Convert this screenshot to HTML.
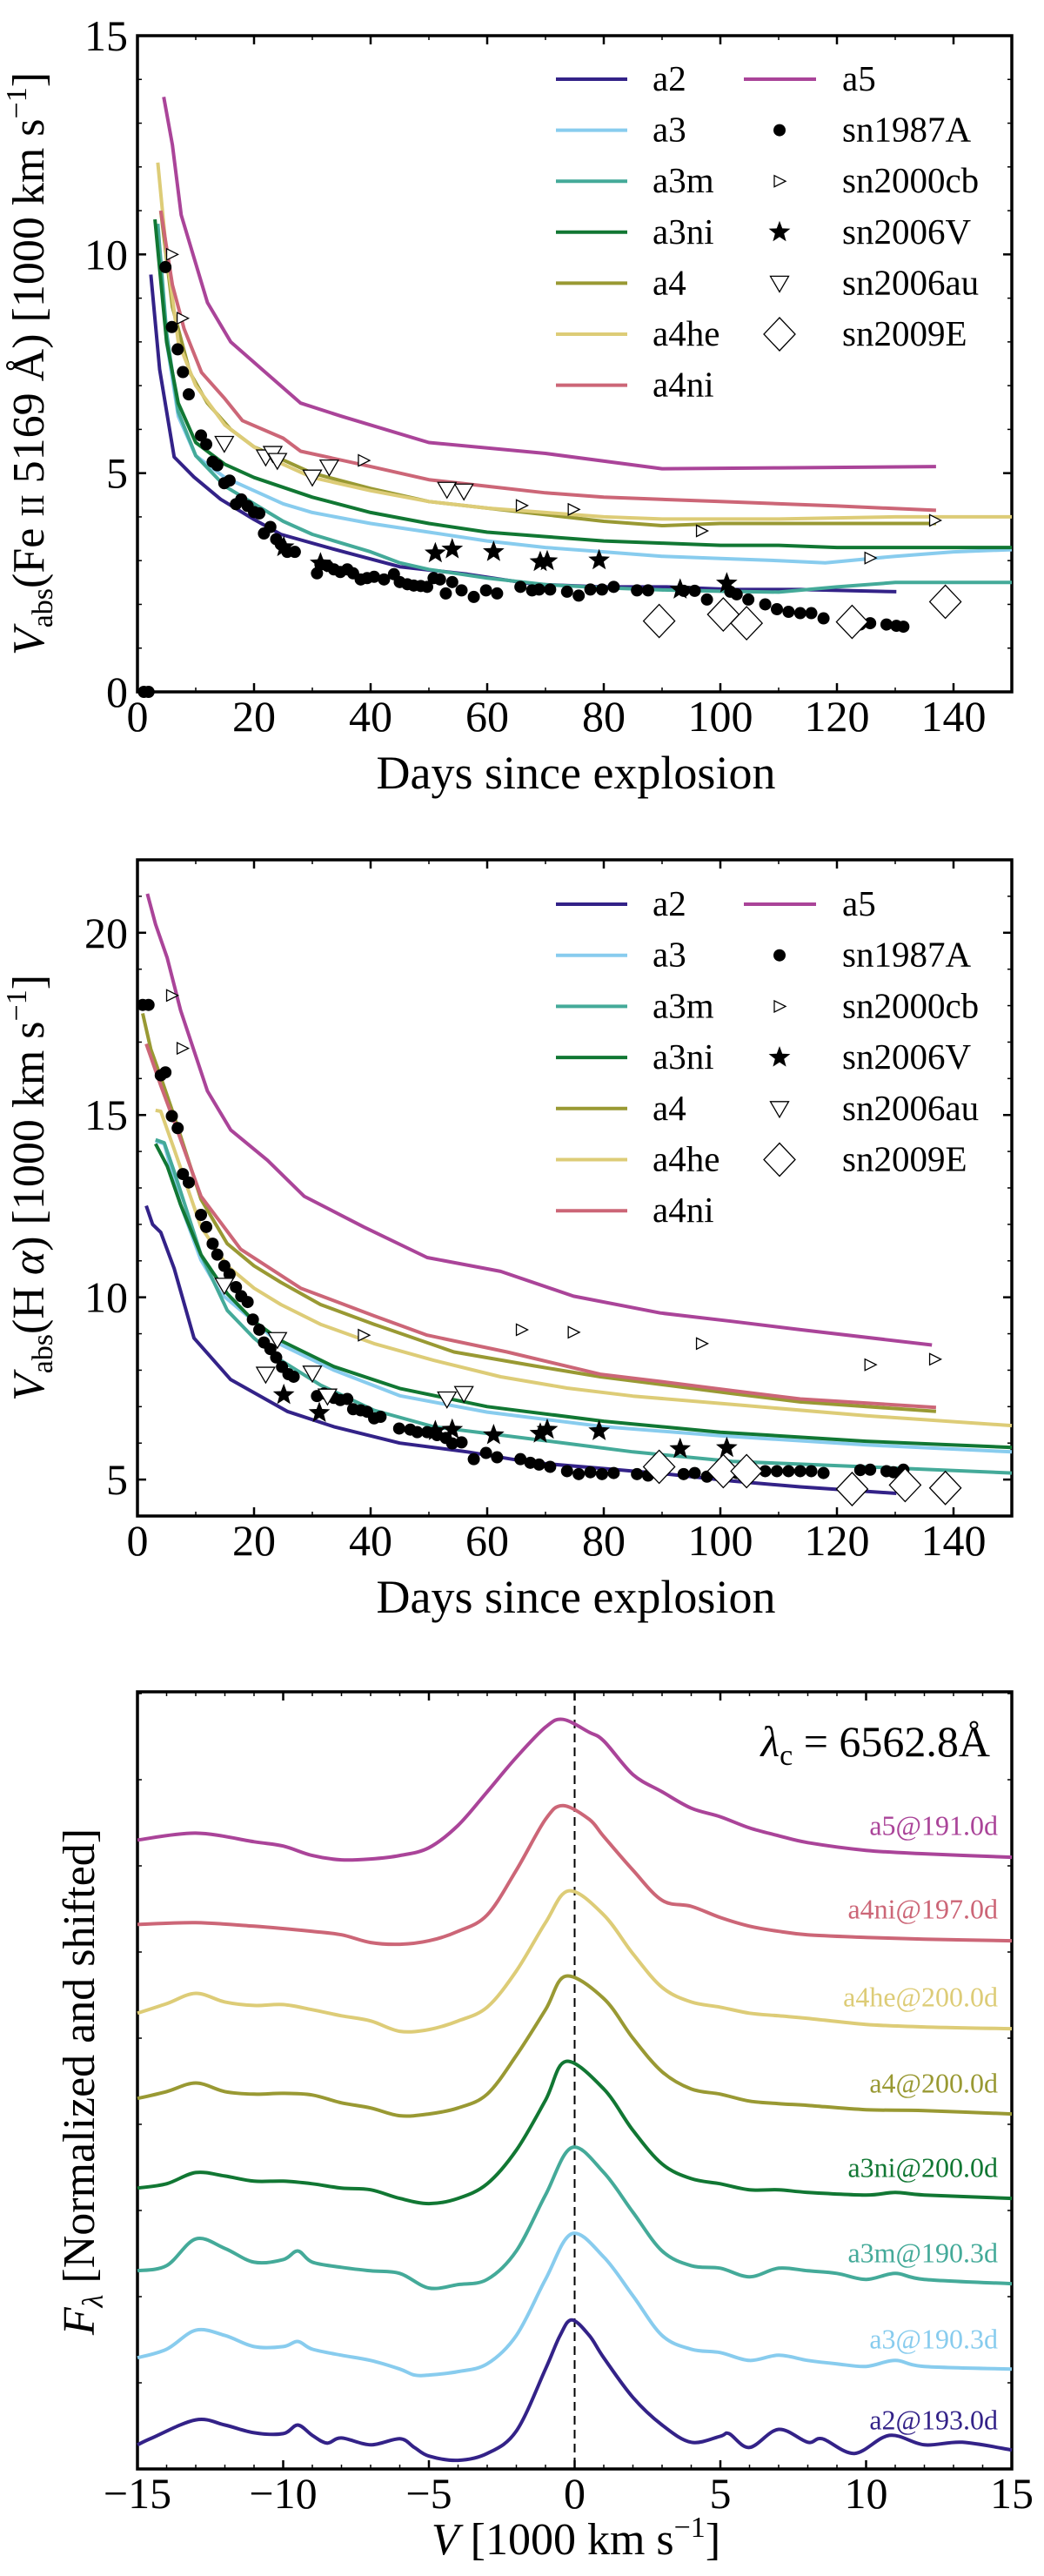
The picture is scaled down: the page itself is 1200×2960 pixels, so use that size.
<!DOCTYPE html>
<html><head><meta charset="utf-8">
<style>
html,body{margin:0;padding:0;background:#fff;}
svg{display:block;font-family:"Liberation Serif","DejaVu Serif",serif;}
</style></head>
<body>
<svg id="fig" xmlns="http://www.w3.org/2000/svg" width="1200" height="2960" viewBox="0 0 1200 2960"></svg>
<script>
// ---------- Panel 1: Fe II 5169 velocities ----------
const fe_a2_day=[2.3,3.8,6.3,9.7,14.3,20,24.6,33.7,45,56.6,68,79.4,90.8,102,113.7,130.2];
const fe_a2_v=[9.54,7.37,5.37,4.91,4.4,3.94,3.6,3.26,2.86,2.69,2.46,2.4,2.4,2.34,2.34,2.29];
const fe_a3_day=[3.5,5,7,10,15,20,25,30,40,50,60,70,80,90,100,110,118,130,140,150];
const fe_a3_v=[10.5,8.0,6.3,5.4,4.9,4.6,4.3,4.1,3.85,3.65,3.45,3.3,3.2,3.1,3.05,3.0,2.95,3.1,3.2,3.25];
const fe_a3m_day=[3.5,5,7,10,15,20,25,30,40,45,50,60,70,80,90,100,110,120,130,150];
const fe_a3m_v=[10.7,8.2,6.4,5.4,4.7,4.3,3.9,3.6,3.2,2.95,2.8,2.6,2.45,2.38,2.33,2.3,2.28,2.4,2.5,2.5];
const fe_a3ni_day=[3,5,7,10,15,20,30,40,50,60,70,80,90,100,110,120,150];
const fe_a3ni_v=[10.8,8.0,6.6,5.7,5.2,4.9,4.45,4.1,3.85,3.65,3.55,3.45,3.4,3.35,3.35,3.3,3.3];
const fe_a4_day=[4,6,9,12,16,20,25,30,40,50,60,70,80,90,100,120,137];
const fe_a4_v=[11.0,8.8,7.3,6.6,6.0,5.6,5.3,5.0,4.65,4.35,4.2,4.05,3.9,3.8,3.85,3.85,3.85];
const fe_a4he_day=[3.5,5,7,10,15,20,25,30,40,50,60,70,80,90,110,130,150];
const fe_a4he_v=[12.1,10,8.0,7.0,6.1,5.6,5.2,4.9,4.6,4.35,4.2,4.1,4.0,3.95,3.95,4.0,4.0];
const fe_a4ni_day=[4,6,8,11,15,18,25,28,40,50,60,70,80,100,120,137];
const fe_a4ni_v=[11.0,9.3,8.3,7.3,6.7,6.2,5.8,5.5,5.15,4.85,4.7,4.55,4.45,4.35,4.25,4.15];
const fe_a5_day=[4.5,6,7.5,12,16,22,28,35,50,70,90,110,137];
const fe_a5_v=[13.6,12.5,10.9,8.9,8.0,7.3,6.6,6.3,5.7,5.45,5.1,5.12,5.15];

const fe_87A_day=[1.1,1.9,4.8,5.9,6.9,7.8,8.8,10.9,11.8,12.9,13.7,14.9,15.8,16.9,17.8,18.9,20,20.9,21.7,22.8,23.8,24.6,25.7,27,30.8,31.4,32.6,33.7,34.8,36,37,38.3,39.4,40.6,42.3,44,45,46.3,47.4,48.6,49.7,50.8,51.9,52.9,54,55.6,57.7,59.8,61.7,65.7,67.7,68.9,70.8,73.7,75.7,77.7,79.7,81.7,85.7,87.6,93.7,95.6,97.7,101.7,102.8,104.8,107.7,109.7,111.7,113.7,115.6,117.7,124,125.7,128.5,130.2,131.4];
const fe_87A_v=[0,0,9.71,8.34,7.83,7.31,6.8,5.86,5.66,5.26,5.18,4.77,4.83,4.29,4.4,4.25,4.11,4.08,3.62,3.77,3.49,3.37,3.2,3.2,2.71,2.91,2.88,2.8,2.74,2.8,2.71,2.57,2.6,2.63,2.57,2.69,2.51,2.46,2.43,2.42,2.4,2.6,2.57,2.25,2.51,2.32,2.17,2.32,2.25,2.4,2.32,2.34,2.34,2.29,2.2,2.34,2.34,2.4,2.32,2.32,2.31,2.31,2.11,2.29,2.23,2.11,2.0,1.89,1.83,1.8,1.8,1.68,1.54,1.57,1.54,1.51,1.49];
const fe_00cb_day=[5.9,7.7,38.8,65.9,74.8,96.8,125.7,136.8];
const fe_00cb_v=[10.0,8.54,5.29,4.26,4.17,3.68,3.06,3.92];
const fe_06V_day=[25.1,31.4,51.1,54,61.1,69.1,70.3,79.2,93.1,101.1];
const fe_06V_v=[3.31,2.94,3.17,3.26,3.2,2.97,2.99,3.01,2.34,2.48];
const fe_06au_day=[14.9,22,23.2,24,30,32.9,53.1,56];
const fe_06au_v=[5.68,5.37,5.45,5.29,4.91,5.14,4.63,4.59];
const fe_09E_day=[89.5,100.5,104.5,122.6,138.6];
const fe_09E_v=[1.62,1.77,1.57,1.6,2.06];

// ---------- Panel 2: H alpha velocities ----------
const ha_a2_day=[1.5,2.6,4,6.3,9.7,16,25.7,33.7,45,56.6,68,79.4,90.8,102,113.7,130.2];
const ha_a2_v=[12.51,12.0,11.78,10.79,8.88,7.74,6.87,6.45,6.0,5.76,5.46,5.31,5.15,4.96,4.8,4.62];
const ha_a3_day=[3.1,4.6,7.4,10.9,14.3,20,24.6,33.7,45,60,80,100,125,150];
const ha_a3_v=[14.29,14.21,12.54,11.02,10.1,9.34,8.7,8.0,7.3,6.85,6.45,6.2,5.95,5.76];
const ha_a3m_day=[3.1,4.6,6.3,10.9,15.4,20,24.6,31.4,40.6,50.8,62.3,73.7,85,102,125,150];
const ha_a3m_v=[14.32,14.24,13.45,11.17,9.64,8.88,8.27,7.59,6.9,6.45,6.22,5.99,5.76,5.5,5.35,5.18];
const ha_a3ni_day=[3.1,5.1,7.4,10.9,15.4,20,24.6,33.7,45,60,80,100,125,150];
const ha_a3ni_v=[14.21,13.6,12.54,11.17,10.1,9.34,8.81,8.1,7.5,7.0,6.6,6.3,6.05,5.88];
const ha_a4_day=[0.9,2.3,4,6.3,10.9,15.4,20,24.6,31.4,40.6,54.3,68,79.4,90.8,102,113.7,137];
const ha_a4_v=[17.79,16.8,16.04,14.97,12.69,11.47,10.86,10.41,9.8,9.26,8.5,8.12,7.82,7.59,7.36,7.13,6.87];
const ha_a4he_day=[3.1,4,6.3,10.9,15.4,20,24.6,31.4,40.6,50.8,62.3,73.7,85,102,125,150];
const ha_a4he_v=[15.13,15.1,14.06,11.93,10.86,10.25,9.8,9.26,8.73,8.27,7.82,7.51,7.29,7.06,6.75,6.48];
const ha_a4ni_day=[1.5,4,6.3,10.9,17.7,28,40.6,49.7,63.4,79.4,90.8,102,113.7,137];
const ha_a4ni_v=[16.95,15.81,14.82,12.77,11.32,10.25,9.49,8.96,8.5,7.89,7.67,7.44,7.21,6.98];
const ha_a5_day=[1.7,3.1,5.1,7.4,12,16,22.3,28.6,38.8,49.7,62.3,74.8,89.7,102,113.7,136.3];
const ha_a5_v=[21.07,20.23,19.31,17.87,15.66,14.59,13.76,12.77,11.93,11.09,10.71,10.03,9.57,9.34,9.11,8.69];

const ha_87A_day=[0.9,1.9,4,4.8,5.9,6.9,7.8,8.8,10.9,11.8,12.9,13.7,14.9,15.8,16.9,17.8,18.9,19.8,20.9,21.7,22.8,23.8,24.8,25.9,26.8,30.8,32,33.7,34.8,36,37,38.3,39.4,40.6,41.7,44.9,46.8,48,49.7,51.4,52.9,54,55.6,57.7,59.8,61.7,65.7,67.4,68.9,70.8,73.7,75.7,77.7,79.7,81.7,85.7,87.6,93.7,95.6,97.7,101.7,102.8,104.8,107.7,109.7,111.7,113.7,115.6,117.7,124,125.7,128.5,129.7,131.4];
const ha_87A_v=[18.02,18.02,16.09,16.17,14.97,14.64,13.38,13.15,12.26,11.93,11.47,11.17,10.86,10.63,10.28,10.03,9.87,9.39,9.11,8.76,8.58,8.35,8.09,7.89,7.82,7.29,7.36,7.24,7.18,7.21,6.93,6.9,6.86,6.68,6.72,6.4,6.37,6.3,6.3,6.22,6.14,5.99,6.02,5.56,5.73,5.61,5.56,5.46,5.41,5.35,5.23,5.15,5.2,5.15,5.18,5.15,5.11,5.15,5.18,5.08,5.23,5.18,5.15,5.23,5.23,5.23,5.23,5.23,5.18,5.26,5.27,5.23,5.2,5.27];
const ha_00cb_day=[5.9,7.7,38.8,65.9,74.8,96.8,125.7,136.8];
const ha_00cb_v=[18.28,16.83,8.96,9.11,9.04,8.73,8.15,8.3];
const ha_06V_day=[25.1,31.2,51.1,54,61.1,69.1,70.3,79.2,93.1,101.1];
const ha_06V_v=[7.32,6.83,6.33,6.37,6.22,6.26,6.37,6.33,5.84,5.87];
const ha_06au_day=[14.9,22,24,30,32.6,53.1,56];
const ha_06au_v=[10.33,7.89,8.84,7.92,7.29,7.21,7.36];
const ha_09E_day=[89.5,100.5,104.5,122.6,131.7,138.6];
const ha_09E_v=[5.35,5.23,5.23,4.74,4.85,4.77];

// ---------- Panel 3: spectra (normalized + shifted) ----------
const sp_a2_x=[-15,-14.5,-13,-12,-11,-10,-9.5,-9,-8.5,-8,-7,-6,-5.5,-5,-4,-3,-2,-1,-0.5,-0.1,0.5,1,2,3,4,5,5.3,6,7,8,8.5,9.6,10.8,12,13.3,15];
const sp_a2_f=[0.28,0.36,0.57,0.51,0.42,0.41,0.51,0.39,0.30,0.36,0.28,0.35,0.25,0.15,0.10,0.18,0.44,1.16,1.55,1.73,1.55,1.29,0.83,0.51,0.31,0.38,0.41,0.25,0.46,0.31,0.35,0.18,0.39,0.28,0.31,0.22];
const sp_a3_x=[-15,-14,-13,-12,-11,-10,-9.5,-9,-8,-7,-6,-5.5,-5,-4,-3,-2,-1,-0.1,1,2,3,4,5,6,7,8,9,10,11,12,15];
const sp_a3_f=[1.29,1.39,1.61,1.55,1.42,1.42,1.48,1.39,1.32,1.26,1.16,1.09,1.09,1.13,1.22,1.55,2.20,2.73,2.46,2.01,1.55,1.39,1.35,1.26,1.32,1.26,1.22,1.19,1.26,1.19,1.16];
const sp_a3m_x=[-15,-14,-13,-12,-11,-10,-9.5,-9,-8,-7,-6,-5,-4,-3,-2,-1,-0.1,1,2,3,4,5,6,7,8,9,10,11,12,15];
const sp_a3m_f=[2.30,2.36,2.67,2.56,2.40,2.43,2.53,2.40,2.34,2.30,2.27,2.10,2.14,2.20,2.53,3.18,3.73,3.44,2.98,2.53,2.36,2.33,2.23,2.33,2.30,2.27,2.20,2.27,2.20,2.15];
const sp_a3ni_x=[-15,-14,-13,-12,-11,-10,-9,-8,-7,-6,-5,-4,-3,-2,-1,-0.3,1,2,3,4,5,6,7,8,10,11,12,15];
const sp_a3ni_f=[3.26,3.31,3.44,3.40,3.34,3.34,3.31,3.26,3.24,3.14,3.08,3.14,3.31,3.70,4.28,4.73,4.41,3.93,3.54,3.37,3.31,3.24,3.24,3.21,3.18,3.21,3.18,3.14];
const sp_a4_x=[-15,-14,-13,-12,-11,-10,-9,-8,-7,-6,-5,-4,-3,-2,-1,-0.3,1,2,3,4,5,6,7,8,10,12,15];
const sp_a4_f=[4.30,4.38,4.48,4.38,4.35,4.36,4.34,4.25,4.19,4.10,4.12,4.19,4.35,4.80,5.33,5.72,5.46,5.00,4.61,4.41,4.35,4.27,4.24,4.22,4.17,4.16,4.12];
const sp_a4he_x=[-15,-14,-13,-12,-11,-10,-9,-8,-7,-6,-5,-4,-3,-2,-1,-0.2,1,2,3,4,5,6,7,8,10,12,15];
const sp_a4he_f=[5.29,5.40,5.52,5.42,5.38,5.39,5.33,5.26,5.20,5.08,5.10,5.20,5.36,5.78,6.34,6.71,6.43,5.98,5.59,5.42,5.36,5.29,5.26,5.23,5.16,5.13,5.11];
const sp_a4ni_x=[-15,-13,-11,-9,-8,-7,-6,-5,-4,-3,-2,-1,-0.4,0.5,1,2,3,4,5,6,7,8,10,12,15];
const sp_a4ni_f=[6.32,6.34,6.30,6.24,6.20,6.11,6.09,6.13,6.24,6.43,6.95,7.54,7.70,7.54,7.34,6.95,6.60,6.53,6.40,6.30,6.24,6.20,6.17,6.15,6.13];
const sp_a5_x=[-15,-13,-11,-10,-9,-8,-7,-6,-5,-4,-3,-2,-1,-0.4,0.5,1,2,3,4,5,6,7,8,10,12,15];
const sp_a5_f=[7.30,7.38,7.28,7.23,7.12,7.07,7.08,7.12,7.21,7.47,7.86,8.26,8.61,8.70,8.55,8.45,8.06,7.86,7.67,7.57,7.44,7.35,7.27,7.18,7.14,7.10];
const sp_labels=["a2@193.0d","a3@190.3d","a3m@190.3d","a3ni@200.0d","a4@200.0d","a4he@200.0d","a4ni@197.0d","a5@191.0d"];
const sp_label_f=[0.57,1.51,2.51,3.50,4.48,5.48,6.50,7.47];

const fe_ticks=[0,5,10,15];
const ha_ticks=[5,10,15,20];
const day_ticks=[0,20,40,60,80,100,120,140];
const vel_ticks=[-15,-10,-5,0,5,10,15];

const models=["a2","a3","a3m","a3ni","a4","a4he","a4ni","a5"];
const colors={a2:"#332288",a3:"#88ccee",a3m:"#44aa99",a3ni:"#117733",a4:"#999933",a4he:"#ddcc77",a4ni:"#cc6677",a5:"#aa4499"};

const NS="http://www.w3.org/2000/svg";
const svg=document.getElementById('fig');
function mk(tag,attrs,parent){const e=document.createElementNS(NS,tag);for(const k in attrs)e.setAttribute(k,attrs[k]);(parent||svg).appendChild(e);return e;}

const XL=158, XR=1163;
function panel(top,bot,xmin,xmax,ymin,ymax){
  return {top,bot,sx:v=>XL+(v-xmin)/(xmax-xmin)*(XR-XL),sy:v=>bot-(v-ymin)/(ymax-ymin)*(bot-top)};
}
const P1=panel(41,795,0,150,0,15);
const P2=panel(988,1742,0,150,4,22);
const P3=panel(1944,2837,-15,15,0,(2837-1944)/99);

function drawLine(P,xs,ys,color,name,smooth){
  const pts=xs.map((x,i)=>[P.sx(x),P.sy(ys[i])]);
  let d='M'+pts[0][0].toFixed(1)+' '+pts[0][1].toFixed(1);
  if(smooth){
    for(let i=0;i<pts.length-1;i++){
      const p0=pts[Math.max(0,i-1)],p1=pts[i],p2=pts[i+1],p3=pts[Math.min(pts.length-1,i+2)];
      const c1=[p1[0]+(p2[0]-p0[0])/6,p1[1]+(p2[1]-p0[1])/6];
      const c2=[p2[0]-(p3[0]-p1[0])/6,p2[1]-(p3[1]-p1[1])/6];
      d+='C'+c1[0].toFixed(1)+' '+c1[1].toFixed(1)+' '+c2[0].toFixed(1)+' '+c2[1].toFixed(1)+' '+p2[0].toFixed(1)+' '+p2[1].toFixed(1);
    }
  } else {for(let i=1;i<pts.length;i++)d+='L'+pts[i][0].toFixed(1)+' '+pts[i][1].toFixed(1);}
  const p=mk('path',{d:d,fill:'none',stroke:color,'stroke-width':4,'stroke-linejoin':'round'});
  
  
  return p;
}
function marker(type,x,y,g){
  let e;
  if(type==='dot'){e=mk('circle',{cx:x,cy:y,r:7,fill:'#000'},g);}
  else if(type==='rtri'){e=mk('polygon',{points:`${x-6},${y-6.5} ${x+7},${y} ${x-6},${y+6.5}`,fill:'#fff',stroke:'#000','stroke-width':1.3},g);}
  else if(type==='dtri'){e=mk('polygon',{points:`${x-10.5},${y-8} ${x+10.5},${y-8} ${x},${y+10}`,fill:'#fff',stroke:'#000','stroke-width':1.3},g);}
  else if(type==='diam'){e=mk('polygon',{points:`${x},${y-19} ${x+18},${y} ${x},${y+19} ${x-18},${y}`,fill:'#fff',stroke:'#000','stroke-width':1.3},g);}
  else {let pts='';for(let k=0;k<10;k++){const r=k%2?5.5:13;const a=-Math.PI/2+k*Math.PI/5;pts+=(x+r*Math.cos(a)).toFixed(1)+','+(y+r*Math.sin(a)).toFixed(1)+' ';}
    e=mk('polygon',{points:pts,fill:'#000'},g);}
  return e;
}
function drawScatter(P,xs,ys,type,name){
  const g=mk('g',{});
  
  
  for(let i=0;i<xs.length;i++){const m=marker(type,P.sx(xs[i]),P.sy(ys[i]),g);
    
    }
}
function axes(P,name,xt,xminorStep,xmin,xmax,yt,yminorStep,ymin,ymax,showY,xfmt){
  const g=mk('g',{});
  
  
  for(let v=xmin;v<=xmax+1e-9;v+=xminorStep){const x=P.sx(v);const maj=xt.some(t=>Math.abs(t-v)<1e-6);const L=maj?10:5;
    mk('line',{x1:x,y1:P.bot,x2:x,y2:P.bot-L,stroke:'#000','stroke-width':maj?2.5:1.5},g);
    mk('line',{x1:x,y1:P.top,x2:x,y2:P.top+L,stroke:'#000','stroke-width':maj?2.5:1.5},g);}
  for(let v=ymin;v<=ymax+1e-9;v+=yminorStep){const y=P.sy(v);const maj=yt.some(t=>Math.abs(t-v)<1e-6);const L=maj?10:5;
    mk('line',{x1:XL,y1:y,x2:XL+L,y2:y,stroke:'#000','stroke-width':maj?2.5:1.5},g);
    mk('line',{x1:XR,y1:y,x2:XR-L,y2:y,stroke:'#000','stroke-width':maj?2.5:1.5},g);}
  const r=mk('rect',{x:XL,y:P.top,width:XR-XL,height:P.bot-P.top,fill:'none',stroke:'#000','stroke-width':3.5});
  
  
  xt.forEach(t=>{const tx=mk('text',{x:P.sx(t),y:P.bot+45,'text-anchor':'middle','font-size':50},g);tx.textContent=xfmt?xfmt(t):String(t);
    
    });
  if(showY) yt.forEach(t=>{const tx=mk('text',{x:147,y:P.sy(t)+17,'text-anchor':'end','font-size':50},g);tx.textContent=String(t);
    
    });
}
function legend(y0,dy,name){
  const g=mk('g',{});
  
  
  const left=["a2","a3","a3m","a3ni","a4","a4he","a4ni"];
  left.forEach((m,i)=>{const y=y0+i*dy;mk('line',{x1:639,y1:y,x2:721,y2:y,stroke:colors[m],'stroke-width':4},g);
    const t=mk('text',{x:750,y:y+13,'font-size':41},g);t.textContent=m;
    
    });
  mk('line',{x1:855,y1:y0,x2:938,y2:y0,stroke:colors.a5,'stroke-width':4},g);
  let t=mk('text',{x:968,y:y0+13,'font-size':41},g);t.textContent='a5';
  
  
  const obs=[['dot','sn1987A'],['rtri','sn2000cb'],['star','sn2006V'],['dtri','sn2006au'],['diam','sn2009E']];
  obs.forEach((o,i)=>{const y=y0+(i+1)*dy;marker(o[0],896,y,g);
    const tt=mk('text',{x:968,y:y+13,'font-size':41},g);tt.textContent=o[1];
    
    });
}
function ylabel(cx,cy,parts,name){
  const t=mk('text',{x:0,y:0,'text-anchor':'middle','font-size':52,transform:`translate(${cx},${cy}) rotate(-90)`});
  
  
  parts.forEach(p=>{const s=mk('tspan',p[1]||{},t);s.textContent=p[0];});
  return t;
}

// ---- Panel 1 ----
axes(P1,'fe-panel',day_ticks,10,0,150,fe_ticks,1,0,15,true);
const feSeries={a2:[fe_a2_day,fe_a2_v],a3:[fe_a3_day,fe_a3_v],a3m:[fe_a3m_day,fe_a3m_v],a3ni:[fe_a3ni_day,fe_a3ni_v],a4:[fe_a4_day,fe_a4_v],a4he:[fe_a4he_day,fe_a4he_v],a4ni:[fe_a4ni_day,fe_a4ni_v],a5:[fe_a5_day,fe_a5_v]};
models.forEach(m=>drawLine(P1,feSeries[m][0],feSeries[m][1],colors[m],'fe-line-'+m,false));
drawScatter(P1,fe_87A_day,fe_87A_v,'dot','fe-sn1987A');
drawScatter(P1,fe_00cb_day,fe_00cb_v,'rtri','fe-sn2000cb');
drawScatter(P1,fe_06V_day,fe_06V_v,'star','fe-sn2006V');
drawScatter(P1,fe_06au_day,fe_06au_v,'dtri','fe-sn2006au');
drawScatter(P1,fe_09E_day,fe_09E_v,'diam','fe-sn2009E');
legend(91,58.6,'fe-legend');
ylabel(50,418,[['V',{'font-style':'italic'}],['abs',{'font-size':34,'dy':10}],['(Fe ',{'dy':-10}],['II',{'font-size':38}],[' 5169 Å) [1000 km s']  ,['−1',{'font-size':34,'dy':-20}],[']',{'dy':20}]],'fe-y-axis-title');
let xt=mk('text',{x:662,y:906,'text-anchor':'middle','font-size':54});xt.textContent='Days since explosion';



// ---- Panel 2 ----
axes(P2,'ha-panel',day_ticks,10,0,150,ha_ticks,1,4,22,true);
const haSeries={a2:[ha_a2_day,ha_a2_v],a3:[ha_a3_day,ha_a3_v],a3m:[ha_a3m_day,ha_a3m_v],a3ni:[ha_a3ni_day,ha_a3ni_v],a4:[ha_a4_day,ha_a4_v],a4he:[ha_a4he_day,ha_a4he_v],a4ni:[ha_a4ni_day,ha_a4ni_v],a5:[ha_a5_day,ha_a5_v]};
models.forEach(m=>drawLine(P2,haSeries[m][0],haSeries[m][1],colors[m],'ha-line-'+m,false));
drawScatter(P2,ha_87A_day,ha_87A_v,'dot','ha-sn1987A');
drawScatter(P2,ha_00cb_day,ha_00cb_v,'rtri','ha-sn2000cb');
drawScatter(P2,ha_06V_day,ha_06V_v,'star','ha-sn2006V');
drawScatter(P2,ha_06au_day,ha_06au_v,'dtri','ha-sn2006au');
drawScatter(P2,ha_09E_day,ha_09E_v,'diam','ha-sn2009E');
legend(1039,58.7,'ha-legend');
ylabel(50,1365,[['V',{'font-style':'italic'}],['abs',{'font-size':34,'dy':10}],['(H ',{'dy':-10}],['α',{'font-style':'italic'}],[') [1000 km s'],['−1',{'font-size':34,'dy':-20}],[']',{'dy':20}]],'ha-y-axis-title');
xt=mk('text',{x:662,y:1853,'text-anchor':'middle','font-size':54});xt.textContent='Days since explosion';



// ---- Panel 3 ----
axes(P3,'spec-panel',vel_ticks,1,-15,15,[],1,0,9,false,t=>t<0?'−'+Math.abs(t):String(t));
const dl=mk('line',{x1:P3.sx(0),y1:P3.top,x2:P3.sx(0),y2:P3.bot,stroke:'#000','stroke-width':2,'stroke-dasharray':'10 6'});


const spSeries={a2:[sp_a2_x,sp_a2_f],a3:[sp_a3_x,sp_a3_f],a3m:[sp_a3m_x,sp_a3m_f],a3ni:[sp_a3ni_x,sp_a3ni_f],a4:[sp_a4_x,sp_a4_f],a4he:[sp_a4he_x,sp_a4he_f],a4ni:[sp_a4ni_x,sp_a4ni_f],a5:[sp_a5_x,sp_a5_f]};
models.forEach((m,i)=>{
  drawLine(P3,spSeries[m][0],spSeries[m][1],colors[m],'spectrum-'+m,true);
  const t=mk('text',{x:1147,y:P3.sy(sp_label_f[i])+11,'text-anchor':'end','font-size':32,fill:colors[m]});
  t.textContent=sp_labels[i];
  
  
});
const lam=mk('text',{x:1138,y:2018,'text-anchor':'end','font-size':50});


[['λ',{'font-style':'italic'}],['c',{'font-size':34,'dy':10}],[' = 6562.8Å',{'dy':-10}]].forEach(p=>{const s=mk('tspan',p[1],lam);s.textContent=p[0];});
ylabel(108,2392,[['F',{'font-style':'italic'}],['λ',{'font-size':34,'dy':10,'font-style':'italic'}],[' [Normalized and shifted]',{'dy':-10}]],'spec-y-axis-title');
const vx=mk('text',{x:662,y:2935,'text-anchor':'middle','font-size':52});


[['V',{'font-style':'italic'}],[' [1000 km s'],['−1',{'font-size':34,'dy':-20}],[']',{'dy':20}]].forEach(p=>{const s=mk('tspan',p[1]||{},vx);s.textContent=p[0];});
</script>
</body></html>
